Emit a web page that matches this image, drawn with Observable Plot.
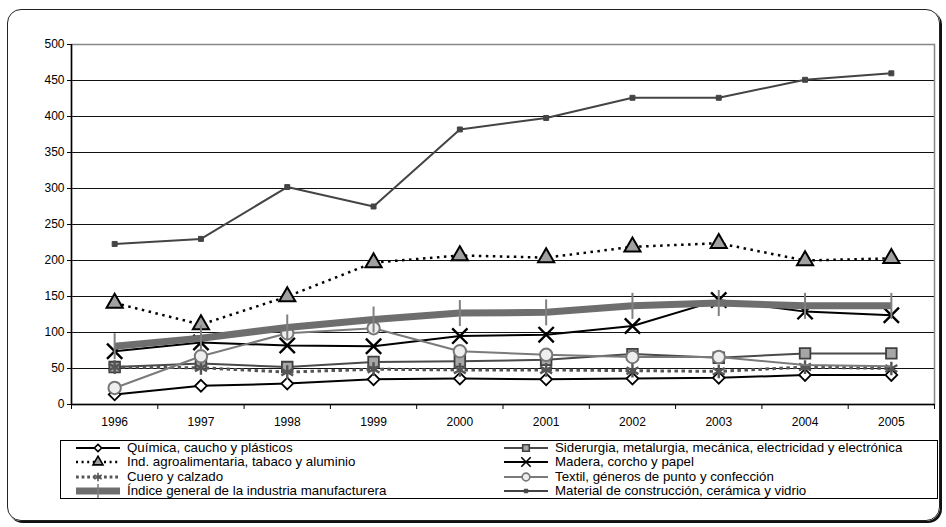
<!DOCTYPE html>
<html>
<head>
<meta charset="utf-8">
<script src="https://cdn.jsdelivr.net/npm/d3@7"></script>
<script src="https://cdn.jsdelivr.net/npm/@observablehq/plot@0.6"></script>
<style>
  html, body { margin: 0; padding: 0; background: #fff; }
  #wrap { position: relative; width: 946px; height: 527px; font-family: "Liberation Sans", Arial, sans-serif; }
  #frame { position: absolute; left: 7px; top: 9px; width: 931px; height: 510px; border: 1.5px solid #222; border-radius: 14px; box-shadow: 2px 2px 0 #111; }
  #chart { position: absolute; left: 0; top: 0; }
  #legend { position: absolute; left: 60px; top: 440px; width: 876px; height: 57px; border: 1px solid #000; background: #fff; font-size: 13.3px; color: #000; }
  .item { position: absolute; height: 14px; display: flex; align-items: center; white-space: nowrap; }
  .item svg { flex: none; }
  .item span { margin-left: 6px; line-height: 14px; }
</style>
</head>
<body>
<div id="wrap">
  <div id="frame"></div>
  <div id="chart"></div>
  <div id="legend"></div>
</div>
<script>
const years = [1996, 1997, 1998, 1999, 2000, 2001, 2002, 2003, 2004, 2005];
const yTicks = [0, 50, 100, 150, 200, 250, 300, 350, 400, 450, 500];

const quimica     = [14, 26, 29, 35, 36, 35, 36, 37, 41, 41];
const siderurgia  = [52, 57, 52, 59, 60, 62, 70, 65, 71, 71];
const agro        = [141, 111, 150, 197, 207, 204, 219, 224, 200, 203];
const madera      = [74, 86, 82, 81, 95, 97, 109, 145, 129, 124];
const cuero       = [52, 51, 45, 49, 48, 48, 47, 46, 52, 50];
const textil      = [23, 67, 99, 106, 74, 69, 66, 66, 55, 53];
const indice      = [81, 92, 107, 118, 127, 128, 137, 141, 137, 137];
const material    = [223, 230, 302, 275, 382, 398, 426, 426, 451, 460];

// years whose Textil marker is not drawn in the original
const textilNoMarker = [2004, 2005];

const vbar = { draw(ctx, size) { const r = Math.sqrt(size / Math.PI); ctx.moveTo(0, -r); ctx.lineTo(0, r); } };

// Excel draw order: first listed drawn first (bottom)
const series = [
  { name: "Química, caucho y plásticos", values: quimica, stroke: "#000", sw: 2, dash: null,
    symbol: "diamond2", r: 5.3, fill: "#fff", mstroke: "#000", msw: 1.8 },
  { name: "Siderurgia, metalurgia, mecánica, electricidad y electrónica", values: siderurgia, stroke: "#4a4a4a", sw: 2, dash: null,
    symbol: "square", r: 6, fill: "#a6a6a6", mstroke: "#404040", msw: 1.8 },
  { name: "Ind. agroalimentaria, tabaco y aluminio", values: agro, stroke: "#000", sw: 2.5, dash: "2.5 4.5",
    symbol: "triangle", r: 6, fill: "#a0a0a0", mstroke: "#000", msw: 2 },
  { name: "Madera, corcho y papel", values: madera, stroke: "#000", sw: 2, dash: null,
    symbol: "times", r: 7, fill: "none", mstroke: "#000", msw: 2.4 },
  { name: "Cuero y calzado", values: cuero, stroke: "#555", sw: 3, dash: "3.5 3.5",
    symbol: "asterisk", r: 6.5, fill: "none", mstroke: "#555", msw: 2.4 },
  { name: "Textil, géneros de punto y confección", values: textil, stroke: "#7a7a7a", sw: 2, dash: null,
    symbol: "circle", r: 6.2, fill: "#eeeeee", mstroke: "#777", msw: 2, skip: textilNoMarker },
  { name: "Índice general de la industria manufacturera", values: indice, stroke: "#6e6e6e", sw: 7, dash: null,
    symbol: vbar, r: 13, fill: "none", mstroke: "#808080", msw: 2 },
  { name: "Material de construcción, cerámica y vidrio", values: material, stroke: "#444", sw: 2, dash: null,
    symbol: "square", r: 2.8, fill: "#444", mstroke: "#444", msw: 1 }
];

const rowsOf = s => years.map((yr, i) => ({ year: yr, value: s.values[i] }));
const bounds = d3.range(years[0] - 0.5, years[years.length - 1] + 1, 1);

const marks = [
  Plot.gridY(yTicks, { stroke: "#111", strokeOpacity: 1, strokeWidth: 1.1 }),
  Plot.frame({ stroke: "#888", strokeWidth: 1.5 }),
  Plot.ruleX([years[0] - 0.5], { stroke: "#000", strokeWidth: 1.5 }),
  Plot.ruleY([0], { stroke: "#000", strokeWidth: 1.5 }),
  Plot.axisY(yTicks, { tickSize: 4, tickPadding: 3, fontSize: 12, stroke: "#000", label: null }),
  Plot.axisX(bounds, { tickSize: 5, tickFormat: () => "", stroke: "#000", label: null }),
  Plot.axisX(years, { tickSize: 0, tickPadding: 13, tickFormat: d => String(d), fontSize: 12, label: null })
];
for (const s of series) {
  const data = rowsOf(s);
  marks.push(Plot.line(data, { x: "year", y: "value", stroke: s.stroke, strokeWidth: s.sw,
    strokeDasharray: s.dash || undefined, strokeLinecap: "butt", strokeLinejoin: "round" }));
  const dotData = s.skip ? data.filter(d => !s.skip.includes(d.year)) : data;
  marks.push(Plot.dot(dotData, { x: "year", y: "value", symbol: () => s.symbol, r: s.r,
    fill: s.fill, stroke: s.mstroke, strokeWidth: s.msw }));
}

const plot = Plot.plot({
  width: 946, height: 435,
  marginLeft: 71, marginRight: 12, marginTop: 44, marginBottom: 31,
  style: { fontFamily: "Liberation Sans, Arial, sans-serif", fontSize: "12px", color: "#000", background: "transparent" },
  x: { type: "linear", domain: [years[0] - 0.5, years[years.length - 1] + 0.5] },
  y: { domain: [0, 500] },
  symbol: { type: "identity" },
  marks
});
document.getElementById("chart").appendChild(plot);

// Legend (Excel order: left column / right column alternate)
const legend = d3.select("#legend");
series.forEach((s, i) => {
  const col = i % 2, row = Math.floor(i / 2);
  const item = legend.append("div").attr("class", "item")
    .style("left", (col === 0 ? 14 : 442) + "px")
    .style("top", (0 + row * 14.3) + "px");
  const svg = item.append("svg").attr("width", 46).attr("height", 14);
  svg.append("line").attr("x1", 1).attr("x2", 45).attr("y1", 7).attr("y2", 7)
    .attr("stroke", s.stroke).attr("stroke-width", s.sw)
    .attr("stroke-dasharray", s.dash ? s.dash.split(" ").map(v => +v * 0.8).join(" ") : null);
  const sym = typeof s.symbol === "string"
    ? { diamond2: d3.symbolDiamond2, square: d3.symbolSquare, triangle: d3.symbolTriangle, times: d3.symbolTimes,
        asterisk: d3.symbolAsterisk, circle: d3.symbolCircle }[s.symbol]
    : s.symbol;
  const lr = s.symbol === vbar ? 8 : Math.max(2, s.r * 0.62);
  svg.append("path").attr("transform", "translate(23,7)")
    .attr("d", d3.symbol(sym, Math.PI * lr * lr)())
    .attr("fill", s.fill).attr("stroke", s.mstroke).attr("stroke-width", Math.min(s.msw, 1.6));
  item.append("span").text(s.name);
});
</script>
</body>
</html>
